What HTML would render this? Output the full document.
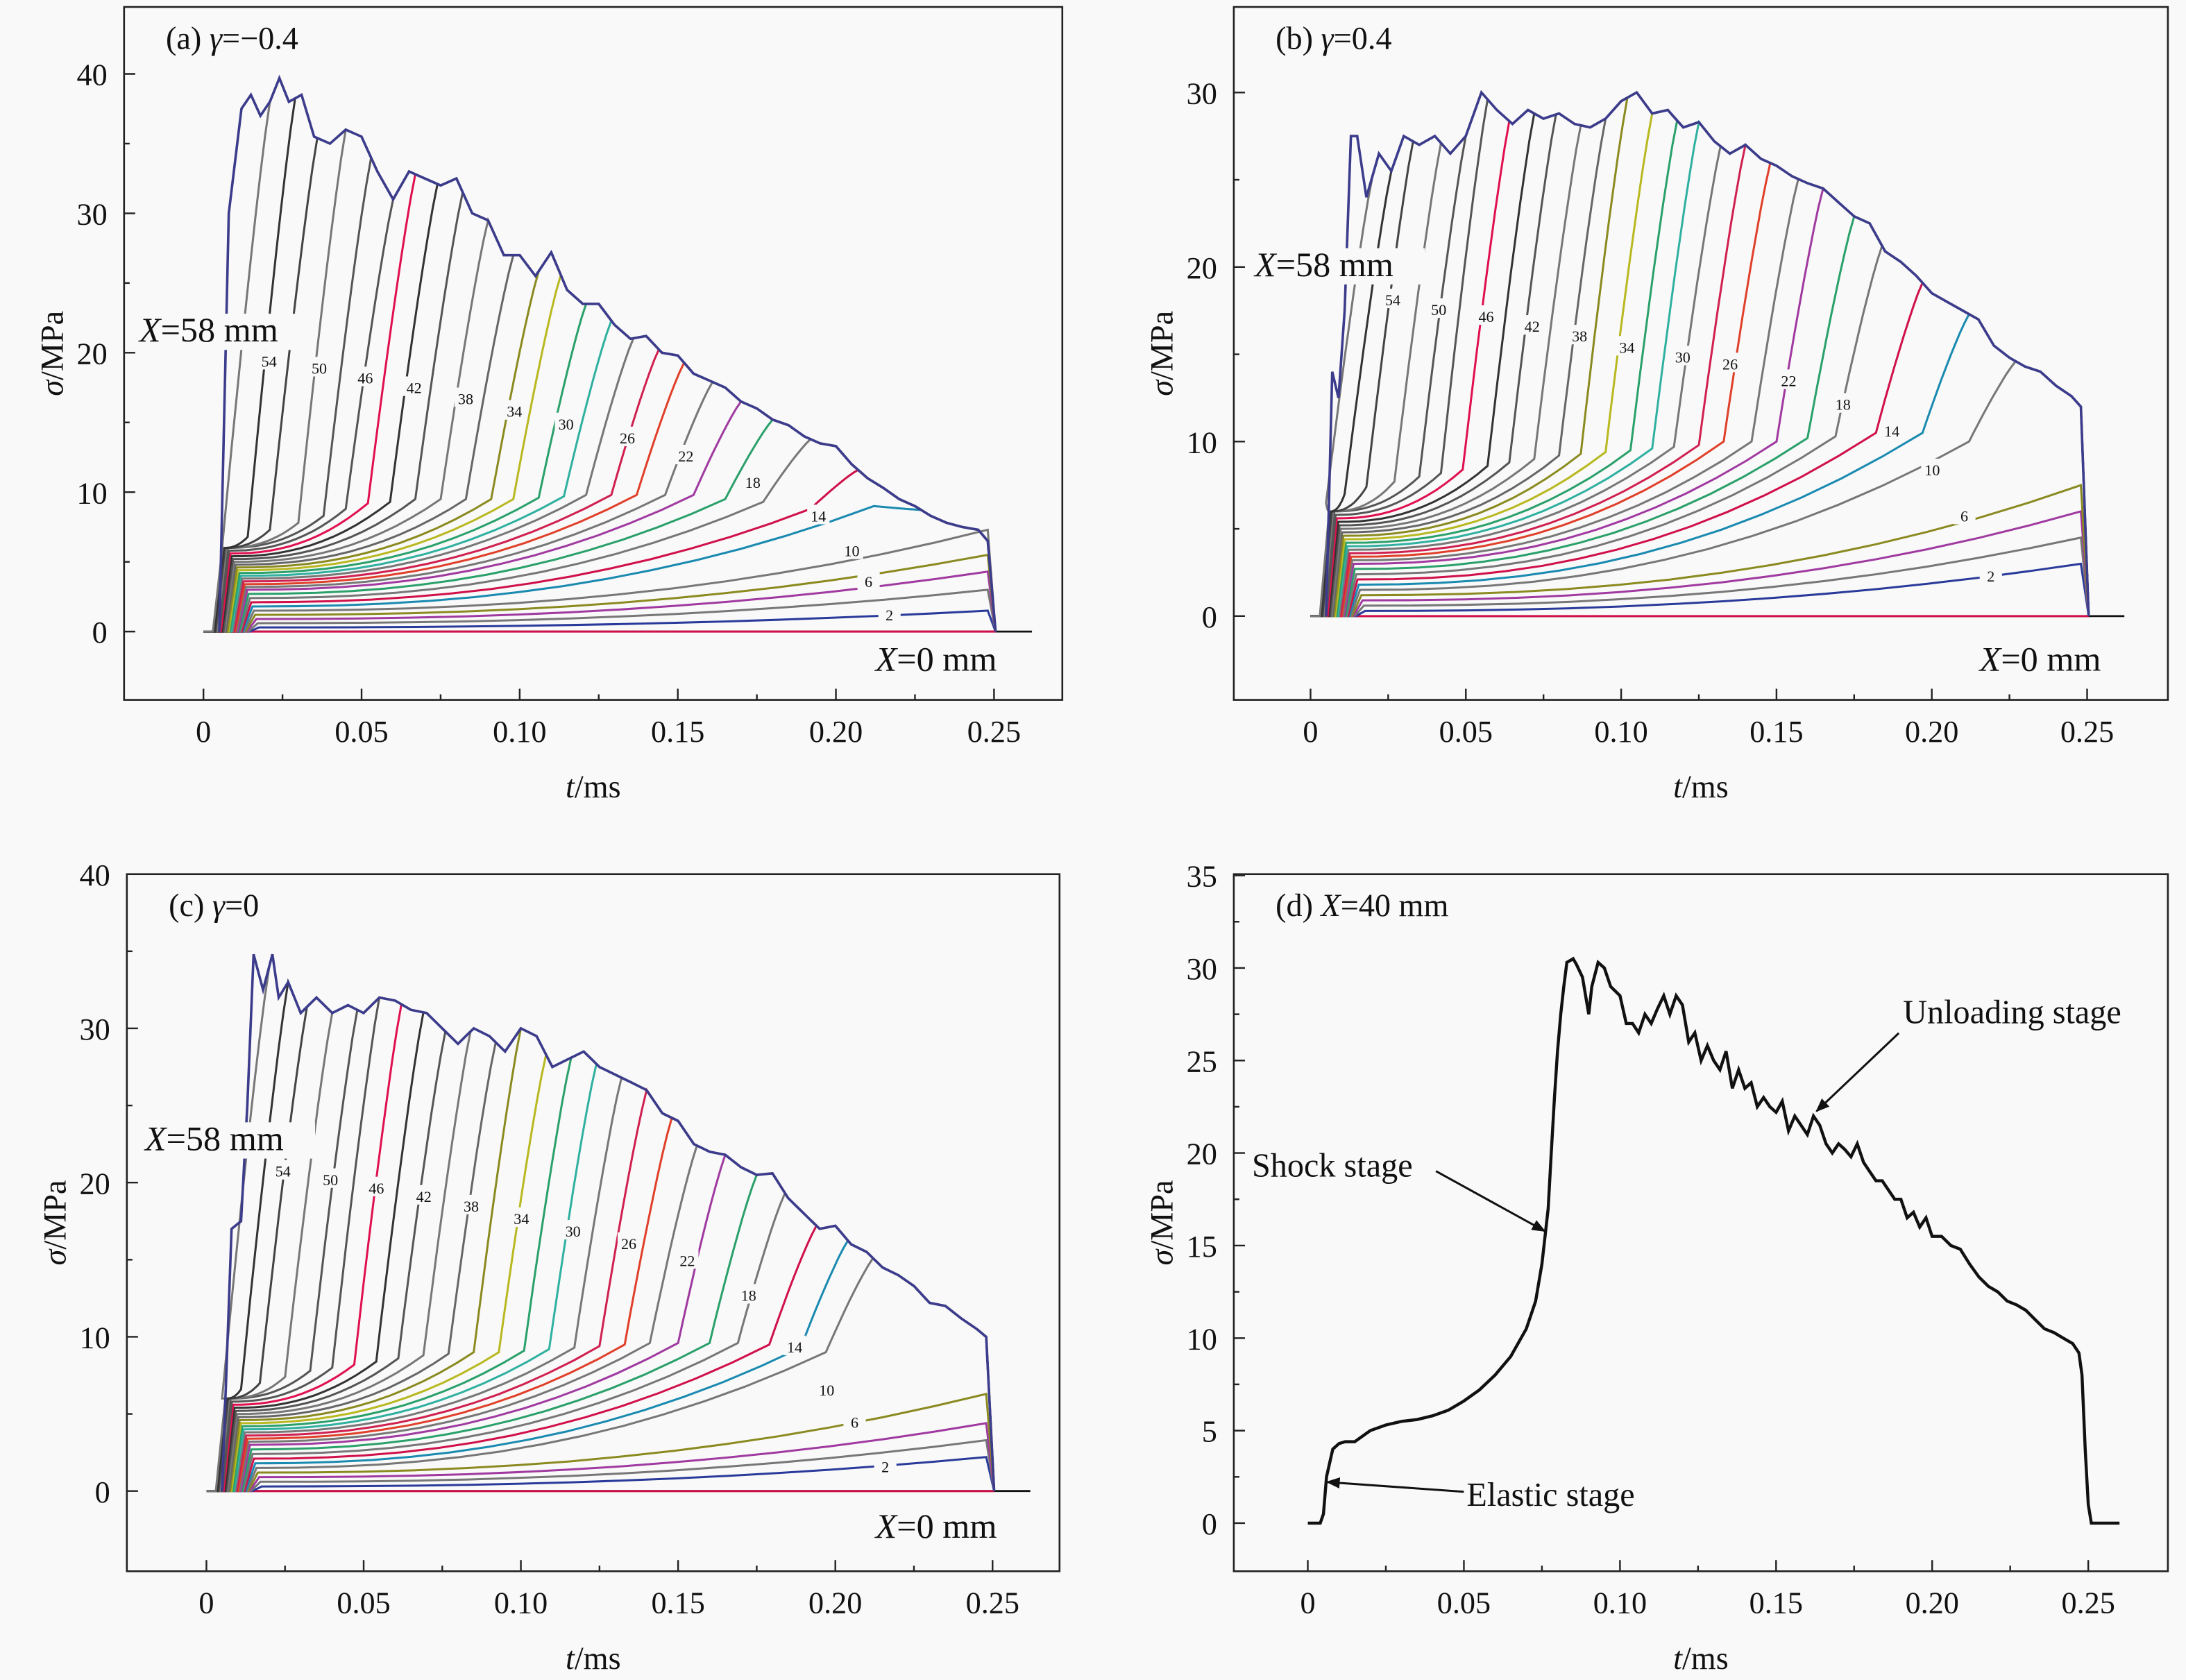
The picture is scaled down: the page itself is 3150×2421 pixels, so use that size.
<!DOCTYPE html>
<html><head><meta charset="utf-8">
<style>
html,body{margin:0;padding:0;background:#f9f9f9;}
svg{display:block;}
text{font-family:"Liberation Serif",serif;fill:#111;}
</style></head>
<body>
<svg id="fig" xmlns="http://www.w3.org/2000/svg" width="3150" height="2421" viewBox="0 0 1568 1205" preserveAspectRatio="none">
<rect x="0" y="0" width="1568" height="1205" fill="#f9f9f9"/>
</svg>
<script>
// ---------- DATA ----------
const curveX = [0,2,4,6,8,10,12,14,16,18,20,22,24,26,28,30,32,34,36,38,40,42,44,46,48,50,52,54,56,58];
const labeledX = [2,6,10,14,18,22,26,30,34,38,42,46,50,54];
// panel a (gamma=-0.4)
const envTA = [0.005,0.008,0.012,0.015,0.018,0.021,0.024,0.027,0.031,0.035,0.04,0.045,0.05,0.055,0.06,0.065,0.07,0.075,0.08,0.085,0.09,0.095,0.1,0.105,0.11,0.115,0.12,0.125,0.13,0.135,0.14,0.145,0.15,0.155,0.16,0.165,0.17,0.175,0.18,0.185,0.19,0.195,0.2,0.205,0.21,0.215,0.22,0.225,0.23,0.235,0.24,0.245,0.248];
const envSA = [0,30,37.5,38.5,37,38,39.7,38,38.5,35.5,35,36,35.5,33,31,33,32.5,32,32.5,30,29.5,27,27,25.5,27.2,24.5,23.5,23.5,22,21,21.2,20,19.8,18.5,18,17.5,16.5,16,15.2,14.8,14,13.5,13.3,12,11,10.3,9.5,9,8.3,7.8,7.5,7.3,6.5];
const shockA = [null,null,null,null,null,null,0.212,0.192,0.177,0.165,0.155,0.146,0.137,0.129,0.121,0.114,0.106,0.098,0.091,0.083,0.075,0.067,0.059,0.052,0.045,0.038,0.03,0.021,0.014,0.006];
const baseA = [0,0.3,0.6,0.9,1.2,1.5,1.8,2.1,2.4,2.7,3,3.2,3.4,3.6,3.8,4,4.2,4.4,4.6,4.8,5,5.2,5.4,5.6,5.8,6,6,6,6,6];
const preA = [0,1.5,3.0,4.3,5.5,7.3,9,8.8,9.3,9.5,9.8,9.8,9.8,9.8,9.8,9.7,9.6,9.5,9.5,9.5,9.5,9.5,9.3,9.2,8.8,8.3,7.8,7.3,6.8,6.2];
// panel b (gamma=0.4)
const envTB = [0.005,0.007,0.009,0.011,0.013,0.015,0.018,0.022,0.026,0.03,0.035,0.04,0.045,0.05,0.055,0.06,0.065,0.07,0.075,0.08,0.085,0.09,0.095,0.1,0.105,0.11,0.115,0.12,0.125,0.13,0.135,0.14,0.145,0.15,0.155,0.16,0.165,0.17,0.175,0.18,0.185,0.19,0.195,0.2,0.205,0.21,0.215,0.22,0.225,0.23,0.235,0.24,0.245,0.248];
const envSB = [0,14,12.5,17.5,27.5,27.5,24,26.5,25.5,27.5,27,27.5,26.5,27.5,30,29,28.2,29,28.5,28.8,28.2,28,28.5,29.5,30,28.8,29,28,28.3,27.2,26.5,27,26.2,25.8,25.2,24.8,24.5,23.7,22.9,22.5,20.9,20.3,19.5,18.5,18,17.5,17,15.5,14.8,14.3,14,13.2,12.6,12];
const shockB = [null,null,null,null,null,0.212,0.197,0.182,0.169,0.16,0.15,0.142,0.133,0.125,0.117,0.11,0.103,0.095,0.087,0.08,0.072,0.064,0.057,0.049,0.042,0.035,0.027,0.018,0.011,0.005];
const baseB = [0,0.3,0.6,0.9,1.2,1.5,1.8,2.1,2.4,2.7,3,3.2,3.4,3.6,3.8,4,4.2,4.4,4.6,4.8,5,5.2,5.4,5.6,5.8,6,6,6,6,6];
const preB = [0,3,4.5,6,7.5,10,10.5,10.5,10.3,10.2,10,10,10,9.8,9.7,9.6,9.5,9.4,9.3,9.2,9,8.8,8.6,8.4,8.2,8,7.7,7.4,7,6.5];
// panel c (gamma=0)
const envTC = [0.005,0.008,0.011,0.013,0.015,0.018,0.021,0.023,0.026,0.03,0.035,0.04,0.045,0.05,0.055,0.06,0.065,0.07,0.075,0.08,0.085,0.09,0.095,0.1,0.105,0.11,0.115,0.12,0.125,0.13,0.135,0.14,0.145,0.15,0.155,0.16,0.165,0.17,0.175,0.18,0.185,0.19,0.195,0.2,0.205,0.21,0.215,0.22,0.225,0.23,0.235,0.24,0.245,0.248];
const envSC = [0,17,17.5,25,34.8,32.5,34.8,32,33,31,32,31,31.5,31,32,31.8,31.2,31,30,29,30,29.5,28.5,30,29.5,27.5,28,28.5,27.5,27,26.5,26,24.5,24,22.5,22,21.8,21,20.5,20.6,19,18,17,17.2,16,15.5,14.5,14,13.3,12.2,12,11.2,10.5,10];
const shockC = [null,null,null,null,null,0.197,0.189,0.179,0.169,0.16,0.15,0.141,0.133,0.125,0.117,0.109,0.101,0.093,0.085,0.077,0.069,0.061,0.054,0.047,0.04,0.033,0.025,0.017,0.011,0.005];
const baseC = [0,0.3,0.6,0.9,1.2,1.5,1.8,2.1,2.4,2.7,3,3.2,3.4,3.6,3.8,4,4.2,4.4,4.6,4.8,5,5.2,5.4,5.6,5.8,6,6,6,6,6];
const preC = [0,2.2,3.3,4.4,6.3,9,9.3,9.5,9.6,9.6,9.6,9.6,9.5,9.4,9.3,9.2,9.1,9,9,8.9,8.8,8.6,8.4,8.2,8,7.8,7.4,7,6.6,6];
// panel d (X=40 mm)
const tD = [0,0.004,0.005,0.006,0.008,0.01,0.012,0.015,0.02,0.025,0.03,0.035,0.04,0.045,0.05,0.055,0.06,0.065,0.07,0.073,0.075,0.077,0.078,0.079,0.08,0.081,0.082,0.083,0.085,0.086,0.088,0.09,0.091,0.093,0.095,0.097,0.1,0.102,0.104,0.106,0.108,0.11,0.112,0.114,0.116,0.118,0.12,0.122,0.124,0.126,0.128,0.13,0.132,0.134,0.136,0.138,0.14,0.142,0.144,0.146,0.148,0.15,0.152,0.154,0.156,0.158,0.16,0.162,0.164,0.166,0.168,0.17,0.172,0.174,0.176,0.178,0.18,0.182,0.184,0.186,0.188,0.19,0.192,0.194,0.196,0.198,0.2,0.203,0.206,0.209,0.212,0.215,0.218,0.221,0.224,0.227,0.23,0.233,0.236,0.239,0.242,0.245,0.247,0.248,0.249,0.25,0.251,0.253,0.26];
const sD = [0,0,0.5,2.5,4,4.3,4.4,4.4,5,5.3,5.5,5.6,5.8,6.1,6.6,7.2,8,9,10.5,12,14,17,20,23,25.5,27.5,29,30.3,30.5,30.2,29.5,27.5,29,30.3,30,29,28.5,27,27,26.5,27.5,27,27.8,28.5,27.5,28.5,28,26,26.5,25,25.8,25,24.5,25.5,23.5,24.5,23.5,23.8,22.5,23,22.5,22.2,22.8,21.2,22,21.5,21,22,21.5,20.5,20,20.5,20.2,19.8,20.5,19.5,19,18.5,18.5,18,17.5,17.5,16.5,16.8,16,16.5,15.5,15.5,15,14.8,14,13.3,12.8,12.5,12,11.8,11.5,11,10.5,10.3,10,9.7,9.2,8,4,1,0,0,0];

// ---------- HELPERS ----------
const NS = 'http://www.w3.org/2000/svg';
const fig = document.getElementById('fig');
function mk(tag, attrs, parent) {
  const e = document.createElementNS(NS, tag);
  for (const k in attrs) e.setAttribute(k, attrs[k]);
  (parent || fig).appendChild(e);
  return e;
}
const palette = ['#d0104a','#2a3a9a','#2aa06a','#a03aa0','#8a8a20','#e0402a','#1a8ab0','#555555','#333333','#777777'];
const topColors = {46:'#e01050',34:'#b8b820',30:'#30b0a0',26:'#d02050',42:'#555',38:'#666',50:'#555',54:'#444'};

function interp(ts, ss, t) {
  if (t <= ts[0]) return ss[0];
  for (let i = 1; i < ts.length; i++) if (t <= ts[i]) {
    const f = (t - ts[i-1]) / (ts[i] - ts[i-1]);
    return ss[i-1] + f * (ss[i] - ss[i-1]);
  }
  return ss[ss.length-1];
}

function makePanel(cfg) {
  const g = mk('g', {});
  
  
  const X = t => cfg.x0 + (t - cfg.tmin) / (cfg.tmax - cfg.tmin) * (cfg.x1 - cfg.x0);
  const Y = s => cfg.y1 - (s - cfg.smin) / (cfg.smax - cfg.smin) * (cfg.y1 - cfg.y0);
  const box = mk('rect', {x: cfg.x0, y: cfg.y0, width: cfg.x1 - cfg.x0, height: cfg.y1 - cfg.y0, fill: 'none', stroke: '#222', 'stroke-width': 1.3}, g);
  
  
  for (let i = 0; i <= 10; i++) {
    const t = i * 0.025;
    const major = i % 2 === 0;
    const tk = mk('line', {x1: X(t), x2: X(t), y1: cfg.y1, y2: cfg.y1 - (major ? 8 : 4), stroke: '#222', 'stroke-width': 1.2}, g);
    
    
    if (major) {
      const lb = mk('text', {x: X(t), y: cfg.y1 + 30, 'font-size': 22, 'text-anchor': 'middle'}, g);
      lb.textContent = i === 0 ? '0' : t.toFixed(2);
      
      
    }
  }
  for (let v = cfg.ystart; v <= cfg.smax + 1e-9; v += cfg.ystep / 2) {
    const k = Math.round((v - cfg.ystart) / (cfg.ystep / 2));
    const major = k % 2 === 0;
    const tk = mk('line', {x1: cfg.x0, x2: cfg.x0 + (major ? 8 : 4), y1: Y(v), y2: Y(v), stroke: '#222', 'stroke-width': 1.2}, g);
    
    
    if (major && v >= 0) {
      const lb = mk('text', {x: cfg.x0 - 12, y: Y(v) + 8, 'font-size': 22, 'text-anchor': 'end'}, g);
      lb.textContent = String(Math.round(v));
      
      
    }
  }
  const xt = mk('text', {x: (cfg.x0 + cfg.x1) / 2, y: cfg.y1 + 70, 'font-size': 23, 'text-anchor': 'middle'}, g);
  xt.innerHTML = '<tspan font-style="italic">t</tspan>/ms';
  
  
  const yc = (cfg.y0 + cfg.y1) / 2;
  const yt = mk('text', {x: cfg.x0 - 52, y: yc + 8, 'font-size': 23, 'text-anchor': 'middle', transform: 'rotate(-90 ' + (cfg.x0 - 52) + ' ' + yc + ')'}, g);
  yt.innerHTML = '<tspan font-style="italic">σ</tspan>/MPa';
  
  
  const ti = mk('text', {x: cfg.x0 + 30, y: cfg.y0 + 30, 'font-size': 23}, g);
  ti.innerHTML = cfg.title;
  
  
  return {g, X, Y};
}

function drawFamily(p, cfg, envT, envS, shock, base, pre) {
  const {g, X, Y} = p;
  const zl = mk('line', {x1: X(0), x2: X(0.262), y1: Y(0), y2: Y(0), stroke: '#111', 'stroke-width': 1.4}, g);
  
  
  for (let i = 0; i < curveX.length; i++) {
    const xv = curveX[i];
    const t0 = 0.003 + (58 - xv) / 58 * 0.012;
    const pts = [[0, 0], [t0, 0], [t0 + 0.003, base[i]]];
    const ts = shock[i];
    const tEnd = ts === null ? 0.248 : ts;
    for (let k = 1; k <= 14; k++) {
      const f = k / 14;
      const t = t0 + 0.003 + f * (tEnd - t0 - 0.003);
      pts.push([t, base[i] + (pre[i] - base[i]) * Math.pow(f, 2.3)]);
    }
    if (ts !== null) {
      const rw = 0.015;
      const tj = ts + rw;
      const se = interp(envT, envS, tj);
      for (let k = 1; k <= 10; k++) {
        const f = k / 10;
        pts.push([ts + f * rw, pre[i] + (se - pre[i]) * (1 - Math.pow(1 - f, 1.3) * 0.5 - 0.5 * (1 - f)) ]);
      }
      for (let j = 0; j < envT.length; j++) if (envT[j] > tj) pts.push([envT[j], envS[j]]);
    }
    pts.push([0.2505, 0]);
    const d = pts.map((q, k) => (k ? 'L' : 'M') + X(q[0]).toFixed(1) + ' ' + Y(q[1]).toFixed(1)).join('');
    const col = topColors[xv] || (xv < 40 && i % 3 !== 2 ? palette[i % 7] : palette[7 + i % 3]);
    const pa = mk('path', {d: d, fill: 'none', stroke: col, 'stroke-width': 1.5}, g);
    
    
  }
  const ed = envT.map((t, k) => (k ? 'L' : 'M') + X(t).toFixed(1) + ' ' + Y(envS[k]).toFixed(1)).join('') + 'L' + X(0.2505) + ' ' + Y(0);
  const ep = mk('path', {d: ed, fill: 'none', stroke: '#3c3c8c', 'stroke-width': 1.8}, g);
  
  
  cfg.labels.forEach((lp, k) => {
    const bg = mk('rect', {x: lp[0] - 8, y: lp[1] - 8, width: 16, height: 14, fill: '#f9f9f9'}, g);
    
    
    const t = mk('text', {x: lp[0], y: lp[1] + 4, 'font-size': 11, 'text-anchor': 'middle'}, g);
    t.textContent = String(labeledX[13 - k]);
    
    
  });
  const bg2 = mk('rect', {x: cfg.x58[0] - 2, y: cfg.x58[1] - 20, width: 124, height: 26, fill: '#f9f9f9'}, g);
  
  
  const a58 = mk('text', {x: cfg.x58[0], y: cfg.x58[1], 'font-size': 25}, g);
  a58.innerHTML = '<tspan font-style="italic">X</tspan>=58 mm';
  
  
  const a0 = mk('text', {x: cfg.x0lab[0], y: cfg.x0lab[1], 'font-size': 25}, g);
  a0.innerHTML = '<tspan font-style="italic">X</tspan>=0 mm';
  
  
}

const pA = makePanel({name: 'panel-a', x0: 89, x1: 762, y0: 5, y1: 502, tmin: -0.0251, tmax: 0.2716, smin: -4.9, smax: 44.8, ystart: 0, ystep: 10,
  title: '(a) <tspan font-style="italic">γ</tspan>=−0.4'});
drawFamily(pA, {labels: [[193,259],[229,264],[262,271],[297,278],[334,286],[369,295],[406,304],[450,314],[492,327],[540,346],[587,370],[611,395],[623,417],[638,441]], x58: [100,245], x0lab: [628,481]}, envTA, envSA, shockA, baseA, preA);
const pB = makePanel({name: 'panel-b', x0: 885, x1: 1555, y0: 5, y1: 502, tmin: -0.0247, tmax: 0.276, smin: -4.8, smax: 34.9, ystart: 0, ystep: 10,
  title: '(b) <tspan font-style="italic">γ</tspan>=0.4'});
drawFamily(pB, {labels: [[999,215],[1032,222],[1066,227],[1099,234],[1133,241],[1167,249],[1207,256],[1241,261],[1283,273],[1322,290],[1357,309],[1386,337],[1409,370],[1428,413]], x58: [900,198], x0lab: [1420,481]}, envTB, envSB, shockB, baseB, preB);
const pC = makePanel({name: 'panel-c', x0: 91, x1: 760, y0: 627, y1: 1127, tmin: -0.0253, tmax: 0.2713, smin: -5.2, smax: 40, ystart: 0, ystep: 10,
  title: '(c) <tspan font-style="italic">γ</tspan>=0'});
drawFamily(pC, {labels: [[203,840],[237,846],[270,852],[304,858],[338,865],[374,874],[411,883],[451,892],[493,904],[537,929],[570,966],[593,997],[613,1020],[635,1052]], x58: [104,825], x0lab: [628,1103]}, envTC, envSC, shockC, baseC, preC);
const pD = makePanel({name: 'panel-d', x0: 885, x1: 1555, y0: 627, y1: 1127, tmin: -0.0237, tmax: 0.2755, smin: -2.6, smax: 35.07, ystart: 0, ystep: 5,
  title: '(d) <tspan font-style="italic">X</tspan>=40 mm'});
(function () {
  const {g, X, Y} = pD;
  const d = tD.map((t, k) => (k ? 'L' : 'M') + X(t).toFixed(1) + ' ' + Y(sD[k]).toFixed(1)).join('');
  const pa = mk('path', {d: d, fill: 'none', stroke: '#111', 'stroke-width': 2.2}, g);
  
  
  const defs = mk('defs', {});
  const m = mk('marker', {id: 'ah', markerWidth: 10, markerHeight: 8, refX: 9, refY: 4, orient: 'auto', markerUnits: 'userSpaceOnUse'}, defs);
  mk('path', {d: 'M0 0L10 4L0 8Z', fill: '#111'}, m);
  const arrows = [[[1362, 741], [1303, 797]], [[1030, 840], [1108, 883]], [[1050, 1070], [952, 1063]]];
  const names = ['unloading-arrow', 'shock-arrow', 'elastic-arrow'];
  arrows.forEach((a, k) => {
    const l = mk('line', {x1: a[0][0], y1: a[0][1], x2: a[1][0], y2: a[1][1], stroke: '#111', 'stroke-width': 1.5, 'marker-end': 'url(#ah)'}, g);
    
    
  });
  const labs = [['Unloading stage', 1365, 734], ['Shock stage', 898, 844], ['Elastic stage', 1052, 1080]];
  const lnames = ['unloading-stage-label', 'shock-stage-label', 'elastic-stage-label'];
  labs.forEach((l, k) => {
    const t = mk('text', {x: l[1], y: l[2], 'font-size': 24}, g);
    t.textContent = l[0];
    
    
  });
})();
</script>
</body></html>
